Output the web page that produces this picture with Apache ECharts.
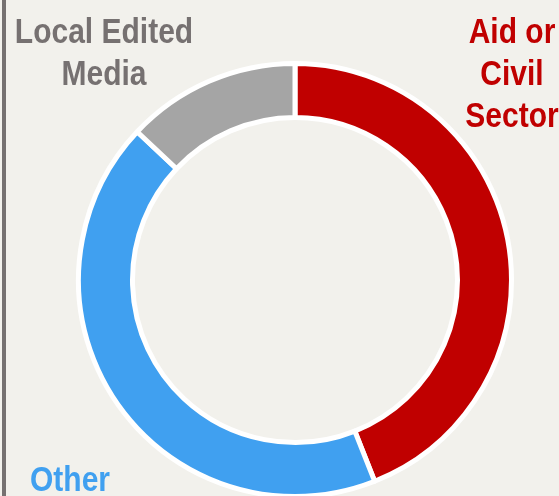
<!DOCTYPE html>
<html>
<head>
<meta charset="utf-8">
<script src="https://cdn.jsdelivr.net/npm/echarts@6/dist/echarts.min.js"></script>
<style>
  html, body { margin: 0; padding: 0; background: #F2F1EC; }
  #chart { width: 559px; height: 496px; }
</style>
</head>
<body>
<div id="chart"></div>
<script>
// Share of sources, in percent
const categories = ['Aid or Civil Sector', 'Other', 'Local Edited Media'];
const shares = [44, 43, 13];
const colors = ['#C00000', '#40A0F0', '#A5A5A5'];
const labelTexts = ['Aid or\nCivil\nSector', 'Other', 'Local Edited\nMedia'];
const labelColors = ['#C00000', '#40A0F0', '#767171'];

const FONT = 'bold 30px "Liberation Sans", Arial, sans-serif';
// Category captions are set in a tall, narrow cut: stretch them vertically
const TEXT_STRETCH = 1.17;

const chart = echarts.init(document.getElementById('chart'), null, { renderer: 'canvas' });

const labelSpots = [
  { x: 512, y: 12 },
  { x: 70, y: 460 },
  { x: 104, y: 12 }
];

chart.setOption({
  backgroundColor: '#F2F1EC',
  animation: false,
  series: [{
    type: 'pie',
    center: [295, 280],
    radius: [162.5, 216.5],
    startAngle: 90,
    clockwise: true,
    silent: true,
    label: { show: false },
    labelLine: { show: false },
    itemStyle: { borderColor: '#FFFFFF', borderWidth: 5 },
    data: categories.map((name, i) => ({
      name: name,
      value: shares[i],
      itemStyle: { color: colors[i] }
    }))
  }],
  graphic: [
    {
      type: 'rect',
      shape: { x: 2, y: 0, width: 4, height: 496 },
      style: { fill: '#767171' }
    }
  ].concat(labelTexts.map((t, i) => ({
    type: 'text',
    x: labelSpots[i].x,
    y: labelSpots[i].y,
    scaleY: TEXT_STRETCH,
    style: {
      text: t,
      font: FONT,
      fill: labelColors[i],
      textAlign: 'center',
      textVerticalAlign: 'top',
      lineHeight: 36
    }
  })))
});
</script>
</body>
</html>
